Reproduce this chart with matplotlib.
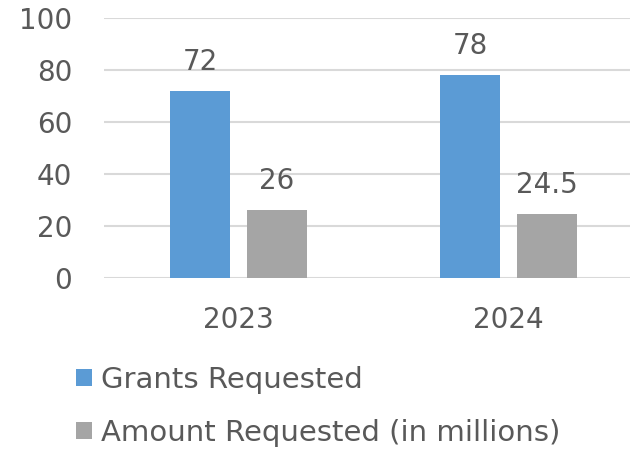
import matplotlib
matplotlib.use("Agg")
import matplotlib.pyplot as plt
import numpy as np
from matplotlib.patches import Patch

categories = ["2023", "2024"]
grants_requested = [72, 78]
amount_requested = [26, 24.5]
amount_labels = ["26", "24.5"]
series_names = ["Grants Requested", "Amount Requested (in millions)"]
yticks = [0, 20, 40, 60, 80, 100]

blue = "#5B9BD5"
gray = "#A5A5A5"
txt = "#595959"
grid = "#D9D9D9"

plt.rcParams['font.family'] = ['DejaVu Sans']
fig = plt.figure(figsize=(6.3, 4.51), dpi=100)
ax = fig.add_axes([104/630, (451-278)/451, (630-104)/630, 260/451])

x = np.arange(len(categories))
off = 38.5/270
w = 60/270
b1 = ax.bar(x - off, grants_requested, w, color=blue, zorder=3)
b2 = ax.bar(x + off, amount_requested, w, color=gray, zorder=3)
ax.bar_label(b1, labels=[str(v) for v in grants_requested], padding=11, fontsize=20, color=txt)
ax.bar_label(b2, labels=amount_labels, padding=11, fontsize=20, color=txt)

ax.set_xlim((104-238.5)/270, (630-238.5)/270)
ax.set_ylim(0, 100)
ax.set_yticks(yticks)
ax.set_yticklabels([str(t) for t in yticks], fontsize=20, color=txt)
ax.set_xticks(x)
ax.set_xticklabels(categories, fontsize=20, color=txt)
ax.tick_params(axis='y', length=0, pad=23)
ax.tick_params(axis='x', length=0, pad=20)
for s in ax.spines.values():
    s.set_visible(False)
ax.yaxis.grid(True, color=grid, linewidth=1.5, zorder=0)
ax.set_axisbelow(True)

handles = [Patch(facecolor=blue), Patch(facecolor=gray)]
fig.legend(handles, series_names, loc='upper left', bbox_to_anchor=(76/630, 1-366/451),
           frameon=False, fontsize=21, labelcolor=txt, handlelength=0.55, handleheight=0.55,
           handletextpad=0.3, labelspacing=0.85, borderaxespad=0, borderpad=0)

fig.savefig("out.png", dpi=100)
